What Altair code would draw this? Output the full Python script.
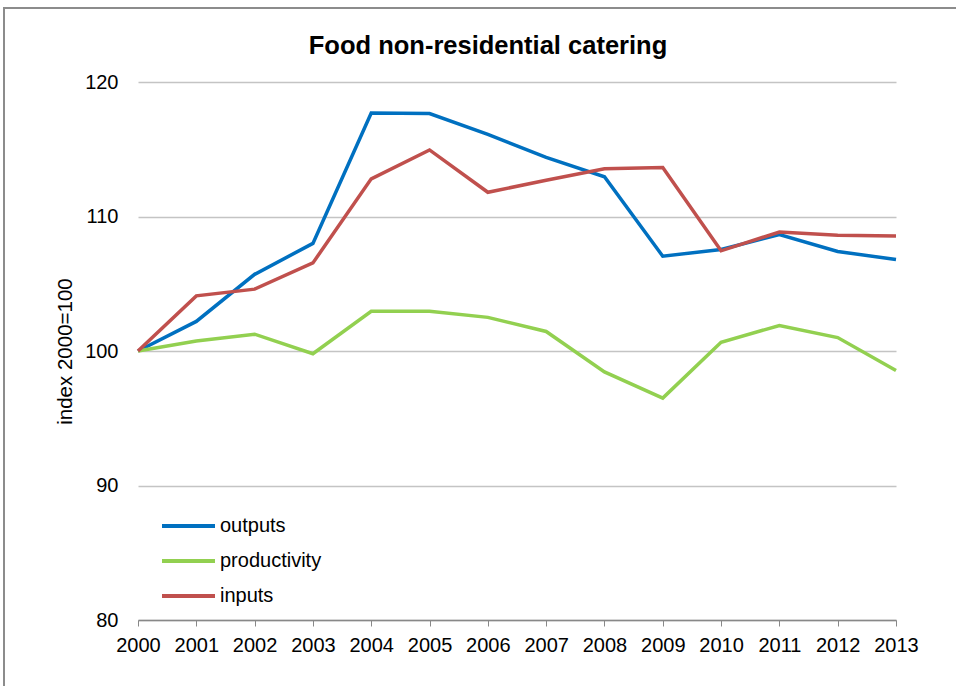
import altair as alt
import pandas as pd

years = list(range(2000, 2014))
outputs = [100, 102.2, 105.7, 108.0, 117.7, 117.65, 116.1, 114.4, 112.95, 107.05, 107.55, 108.65, 107.4, 106.8]
productivity = [100, 100.75, 101.25, 99.8, 102.95, 102.95, 102.5, 101.45, 98.45, 96.5, 100.65, 101.9, 101.0, 98.55]
inputs = [100, 104.1, 104.6, 106.55, 112.8, 114.95, 111.8, 112.7, 113.55, 113.65, 107.45, 108.85, 108.6, 108.55]

series_names = ["outputs", "productivity", "inputs"]
series_colors = ["#0070C0", "#92D050", "#C0504D"]
chart_title = "Food non-residential catering"

rows = []
for name, vals in zip(series_names, [outputs, productivity, inputs]):
    for y, v in zip(years, vals):
        rows.append({"year": y, "value": v, "series": name})
df = pd.DataFrame(rows)
legend_df = pd.DataFrame({"series": series_names})

FONT = "Liberation Sans"
W, H = 758, 538

one = pd.DataFrame({"a": [0]})
color_scale = alt.Scale(domain=series_names, range=series_colors)
legend_y_scale = alt.Scale(type="point", domain=series_names, range=[444, 514], padding=0)

frame = alt.Chart(one).mark_rect(
    fill=None, stroke="#8c8c8c", strokeWidth=2, clip=False
).encode(
    x=alt.value(-134), x2=alt.value(840), y=alt.value(-74), y2=alt.value(640)
)

title = alt.Chart(one).mark_text(
    font=FONT, fontSize=25.5, fontWeight="bold", color="#000000",
    align="center", baseline="alphabetic", clip=False
).encode(
    x=alt.value(350), y=alt.value(-28), text=alt.value(chart_title)
)

lines = alt.Chart(df).mark_line(strokeWidth=3.5).encode(
    x=alt.X("year:Q",
            scale=alt.Scale(domain=[2000, 2013], nice=False, zero=False),
            axis=alt.Axis(values=years, format="d", title=None, grid=False,
                          labelFontSize=20, labelFont=FONT, labelColor="#000000",
                          domainColor="#888888", domainWidth=1.5,
                          tickColor="#888888", tickSize=6, labelPadding=9,
                          labelFlush=False)),
    y=alt.Y("value:Q",
            scale=alt.Scale(domain=[80, 120], nice=False, zero=False),
            axis=alt.Axis(values=[80, 90, 100, 110, 120], title="index 2000=100",
                          grid=True, gridColor="#c4c4c4", gridWidth=1.3,
                          domain=False, ticks=False, labelPadding=20,
                          labelFontSize=20, labelFont=FONT, labelColor="#000000",
                          titleFont=FONT, titleFontSize=20.5, titleFontWeight="normal",
                          titleColor="#000000", titleX=-73, titleY=269,
                          titleAngle=-90, titleBaseline="middle")),
    color=alt.Color("series:N", scale=color_scale, legend=None),
)

legend_lines = alt.Chart(legend_df).mark_rule(strokeWidth=4).encode(
    x=alt.value(24), x2=alt.value(77),
    y=alt.Y("series:N", scale=legend_y_scale, axis=None),
    color=alt.Color("series:N", scale=color_scale, legend=None),
)

legend_text = alt.Chart(legend_df).mark_text(
    font=FONT, fontSize=20, color="#000000", align="left", baseline="middle"
).encode(
    x=alt.value(82),
    y=alt.Y("series:N", scale=legend_y_scale, axis=None),
    text="series:N",
)

legend = alt.layer(legend_lines, legend_text)

chart = alt.layer(frame, title, lines, legend).resolve_scale(
    y="independent"
).properties(
    width=W, height=H,
    autosize=alt.AutoSizeParams(type="none"),
    padding={"left": 138, "top": 82, "right": 60, "bottom": 66},
    background="white",
).configure_view(stroke=None)

chart.save("out.html", embed_options={"renderer": "svg", "actions": False})
